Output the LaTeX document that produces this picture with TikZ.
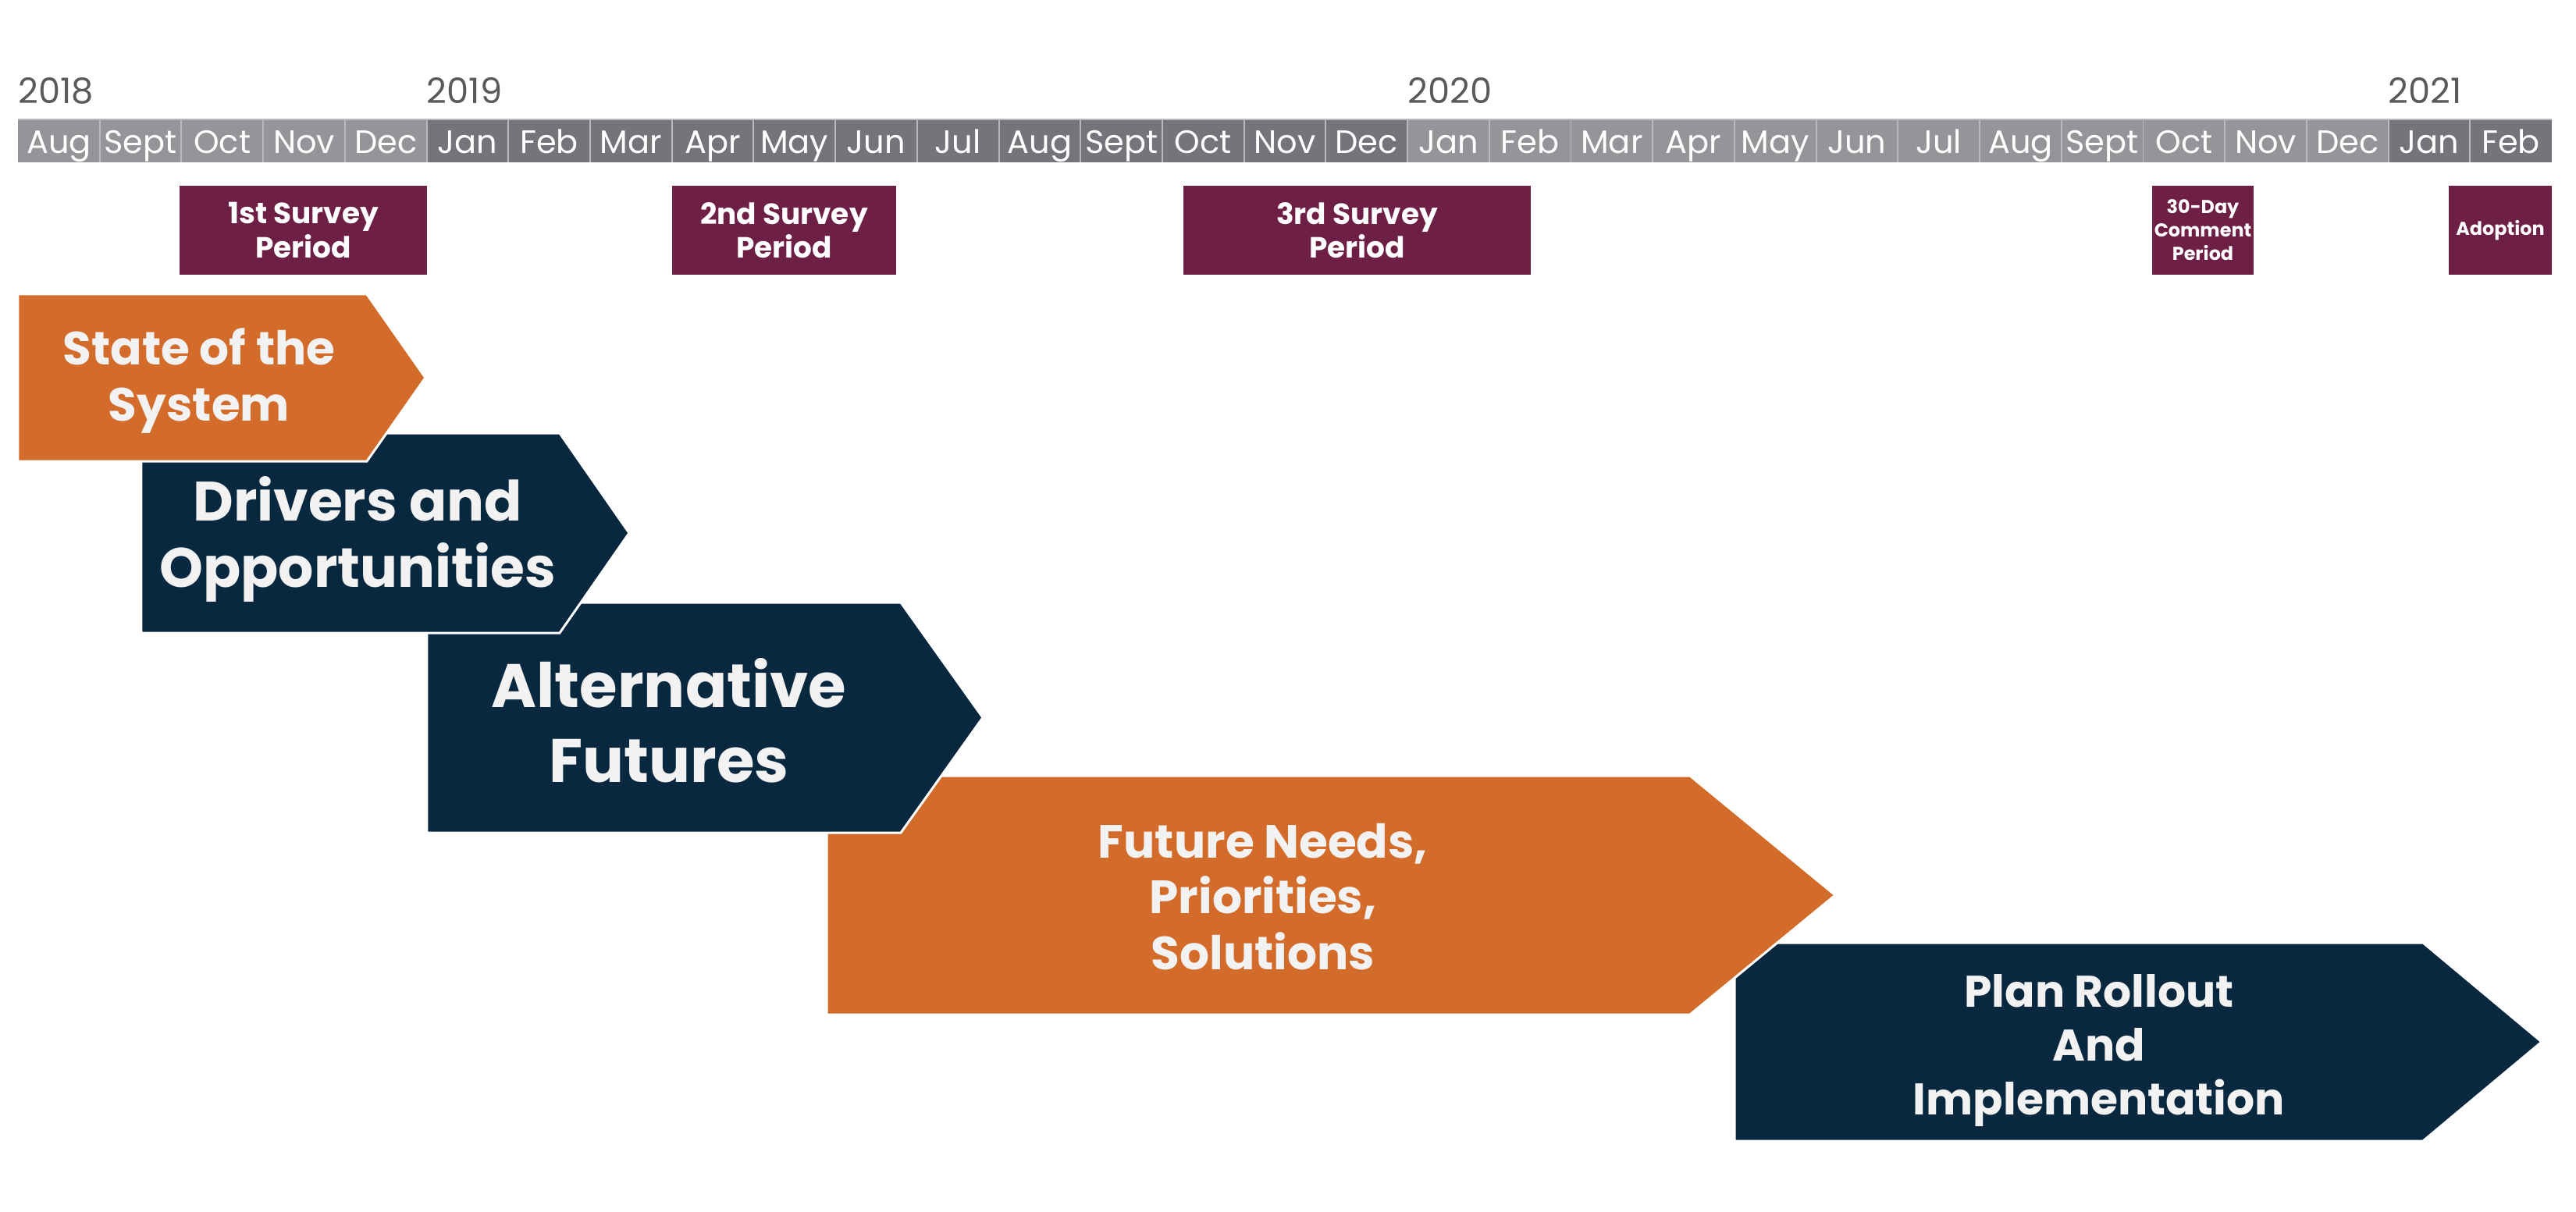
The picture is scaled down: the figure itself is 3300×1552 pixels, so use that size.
\documentclass[tikz,border=0pt]{standalone}
\usepackage{fontspec}
\setmainfont{Poppins}
\definecolor{lightcell}{HTML}{939598}
\definecolor{darkcell}{HTML}{76747A}
\definecolor{maroonA}{HTML}{6E1F45}
\definecolor{orangeA}{HTML}{D36C2B}
\definecolor{navyA}{HTML}{082840}
\definecolor{offwhite}{HTML}{F2F2F2}
\definecolor{yeargray}{HTML}{5A5A5C}
\definecolor{divider}{HTML}{B8B9BC}
\tikzset{
  yearlbl/.style={anchor=base west, inner sep=0pt, text=yeargray, font=\fontsize{25.5}{30}\selectfont},
  monthlbl/.style={anchor=base, inner sep=0pt, text=white, font=\fontsize{23.6}{28}\selectfont},
  sbox/.style={fill=maroonA, text=white, align=center, inner sep=0pt, minimum height=2.28cm, font=\bfseries\fontsize{21.3}{24.5}\selectfont},
  smallbox/.style={sbox, font=\bfseries\fontsize{13.6}{17}\selectfont},
  arrowshape/.style={draw=white, line width=1.7pt, line join=miter},
  arrowtext/.style={text=offwhite, align=center, inner sep=0pt},
}
\begin{document}
\begin{tikzpicture}[x=0.02cm,y=-0.02cm]
\useasboundingbox (0,0) rectangle (3300,1552);
\fill[white] (0,0) rectangle (3300,1552);
% month bar
\foreach \m [count=\i from 0] in {Aug,Sept,Oct,Nov,Dec,Jan,Feb,Mar,Apr,May,Jun,Jul,Aug,Sept,Oct,Nov,Dec,Jan,Feb,Mar,Apr,May,Jun,Jul,Aug,Sept,Oct,Nov,Dec,Jan,Feb} {
  \pgfmathsetmacro\xl{23+\i*104.71}
  \pgfmathsetmacro\xr{23+(\i+1)*104.71}
  \pgfmathsetmacro\xc{23+(\i+0.5)*104.71}
  \ifnum\i<5 \def\cc{lightcell}\else\ifnum\i<17 \def\cc{darkcell}\else\ifnum\i<29 \def\cc{lightcell}\else\def\cc{darkcell}\fi\fi\fi
  \fill[\cc] (\xl,153) rectangle (\xr,208);
  \ifnum\i>0 \draw[divider, line width=1.1pt] (\xl,153) -- (\xl,208);\fi
  \node[monthlbl] (m\i) at (\xc,196) {\m};
}
\draw[divider, line width=1.1pt] (23,153) -- (3269,153);
% years
\node[yearlbl] (y2018) at (23,132) {2018};
\node[yearlbl] (y2019) at (546.5,132) {2019};
\node[yearlbl] (y2020) at (1803,132) {2020};
\node[yearlbl] (y2021) at (3059.6,132) {2021};
% survey boxes
\node[sbox, minimum width=6.34cm] (s1) at (388.5,295) {1st Survey\\Period};
\node[sbox, minimum width=5.74cm] (s2) at (1004.5,295) {2nd Survey\\Period};
\node[sbox, minimum width=8.9cm] (s3) at (1738.5,295) {3rd Survey\\Period};
\node[smallbox, minimum width=2.6cm] (s4) at (2822,295) {30-Day\\Comment\\Period};
\node[smallbox, minimum width=2.64cm] (s5) at (3203,295) {Adoption};
% arrows (later ones behind)
\filldraw[arrowshape, fill=navyA] (2222,1208) -- (3104,1208) -- (3256,1335) -- (3104,1462) -- (2222,1462) -- cycle;
\filldraw[arrowshape, fill=orangeA] (1059,994) -- (2165,994) -- (2351,1147) -- (2165,1300) -- (1059,1300) -- cycle;
\filldraw[arrowshape, fill=navyA] (547,772) -- (1154,772) -- (1259,919.5) -- (1154,1067) -- (547,1067) -- cycle;
\filldraw[arrowshape, fill=navyA] (181,555) -- (717,555) -- (806,683) -- (717,811) -- (181,811) -- cycle;
\filldraw[arrowshape, fill=orangeA] (23,377) -- (470,377) -- (545,484) -- (470,591) -- (23,591) -- cycle;
% arrow texts
\node[arrowtext, font=\bfseries\fontsize{34}{40.8}\selectfont] (t1) at (255,488) {State of the\\System};
\node[arrowtext, font=\bfseries\fontsize{40.5}{48.2}\selectfont] (t2) at (458,691) {Drivers and\\Opportunities};
\node[arrowtext, font=\bfseries\fontsize{44.8}{54.4}\selectfont] (t3) at (857,923) {Alternative\\Futures};
\node[arrowtext, font=\bfseries\fontsize{34}{40.8}\selectfont] (t4) at (1618,1149) {Future Needs,\\Priorities,\\Solutions};
\node[arrowtext, font=\bfseries\fontsize{32.3}{39.1}\selectfont] (t5) at (2689,1346) {Plan Rollout\\And\\Implementation};
\end{tikzpicture}
\end{document}
